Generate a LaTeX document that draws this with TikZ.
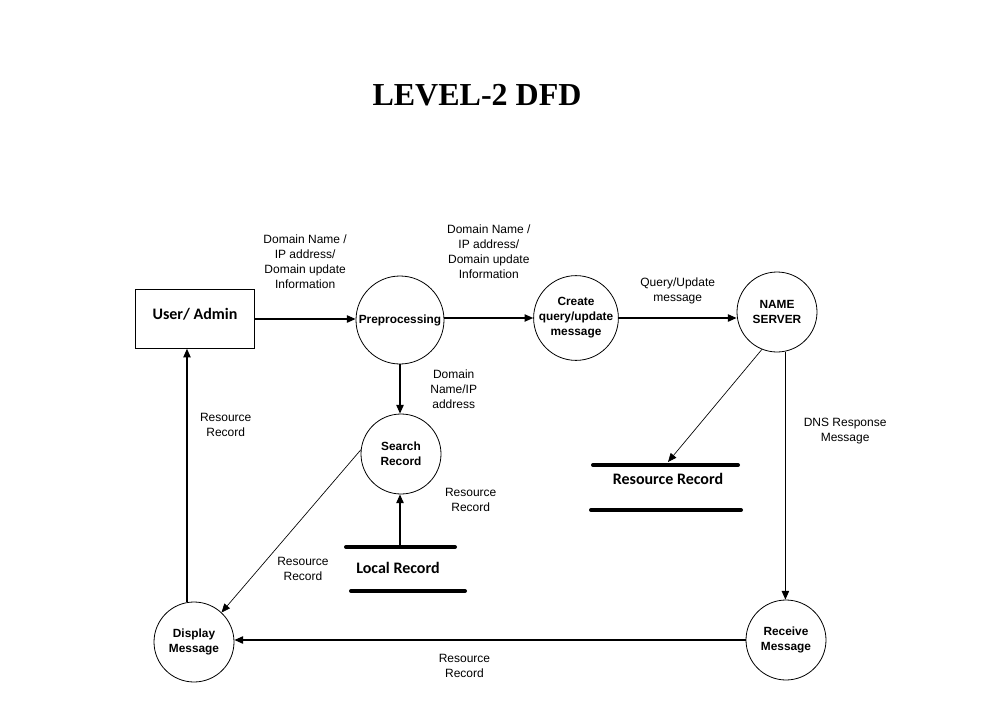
\documentclass[tikz,border=0pt]{standalone}
\usepackage{fontspec}
\setmainfont{Liberation Sans}
\newfontfamily\calfont{Carlito}
\newfontfamily\timesfont{Liberation Serif}
\usetikzlibrary{arrows.meta, positioning, calc}
\tikzset{
    base/.style = {
        draw=black, line width=0.6pt, text centered,
        font=\fontsize{8.9}{11.2}\selectfont\bfseries
    },
    % Processes, entities and stores
    process/.style = {base, circle, inner sep=0pt, minimum size=60pt, align=center},
    entity/.style  = {base, rectangle, minimum width=89pt, minimum height=44pt,
        font=\fontsize{12}{14}\selectfont\calfont\bfseries},
    store/.style   = {font=\fontsize{12}{14}\selectfont\calfont\bfseries},
    storeline/.style = {line width=3pt, line cap=round},
    % Edges and annotations
    arrow/.style = {line width=0.9pt, -{Triangle[length=6.5pt, width=5.5pt]}},
    thin_arrow/.style = {line width=0.5pt, -{Triangle[length=6.5pt, width=5.5pt]}},
    annotation/.style = {font=\fontsize{9}{11.25}\selectfont, align=center}
}

\begin{document}
\begin{tikzpicture}[x=0.75pt, y=-0.75pt]
    \useasboundingbox (0,0) rectangle (982,714);

    % Title
    \node (title) at (477,95) {\fontsize{24}{28}\selectfont\timesfont\bfseries LEVEL-2 DFD};

    % Top row
    \node (user) [entity, text depth=7pt] at (195,319) {User/ Admin};
    \node (prep) [process, minimum size=66pt] at (400,320) {Preprocessing};
    \node (create) [process] at (576,318) {Create\\query/update\\message};
    \node (nameserver) [process] at (777,312) {NAME\\SERVER};

    % Middle and bottom
    \node (search) [process] at (401,454) {Search\\Record};
    \node (display) [process] at (194,642) {Display\\Message};
    \node (receive) [process] at (786,640) {Receive\\Message};

    % Data stores
    \node (rrec) [store] at (668,479) {Resource Record};
    \draw [storeline] (593,465) -- (738,465);
    \draw [storeline] (591,510) -- (741,510);
    \coordinate (rrtop) at (668,462);

    \node (localrec) [store] at (398,568) {Local Record};
    \draw [storeline] (346,547) -- (455,547);
    \draw [storeline] (351,591) -- (465,591);
    \coordinate (localtop) at (400,547);

    % --- Connections ---
    \draw [arrow] (user.east) -- node[midway, above=19pt, annotation] {Domain Name /\\IP address/\\Domain update\\Information} (user.east -| prep.west);
    \draw [arrow] (prep.east |- create.west) -- node[midway, above=26pt, annotation] {Domain Name /\\IP address/\\Domain update\\Information} (create.west);
    \draw [arrow] (create.east) -- node[midway, above=7pt, annotation] {Query/Update\\message} (create.east -| nameserver.west);

    \draw [arrow] (prep.south) -- node[midway, right=19pt, annotation] {Domain\\Name/IP\\address} (search.north -| prep.south);
    \draw [arrow] (localtop) -- node[pos=0.9, right=30pt, annotation] {Resource\\Record} (localtop |- search.south);
    \draw [thin_arrow] (search.174) -- node[pos=0.73, right=10pt, annotation] {Resource\\Record} (display.47);
    \draw [arrow] (display.100) -- node[pos=0.7, right=6pt, annotation] {Resource\\Record} (display.100 |- user.south);

    \draw [thin_arrow] (nameserver.-112) -- (rrtop);
    \draw [arrow] (nameserver.-78) -- node[pos=0.32, right=10pt, annotation] {DNS Response\\Message} (nameserver.-78 |- receive.north);
    \draw [arrow] (receive.west) -- node[pos=0.55, below=7pt, annotation] {Resource\\Record} (receive.west -| display.east);

\end{tikzpicture}
\end{document}
